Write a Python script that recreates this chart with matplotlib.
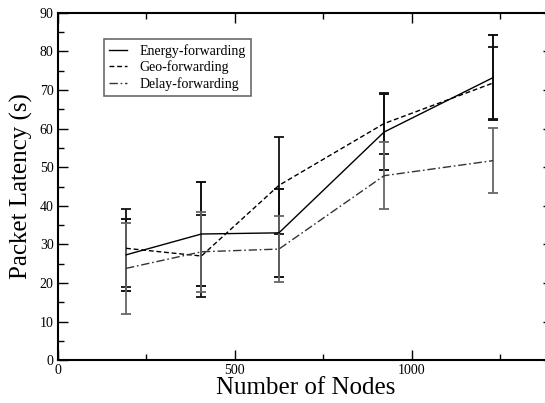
import matplotlib
matplotlib.use("Agg")
import matplotlib.pyplot as plt
from matplotlib.ticker import MultipleLocator

nodes = [193, 406, 625, 922, 1230]
energy = [27.3, 32.7, 33.0, 59.1, 73.2]
energy_err = [9.3, 13.4, 11.4, 9.9, 11.1]
geo = [29.0, 27.0, 45.3, 61.3, 71.8]
geo_err = [10.1, 10.5, 12.5, 8.0, 9.3]
delay = [23.8, 28.1, 28.8, 47.8, 51.7]
delay_err = [11.8, 10.4, 8.6, 8.7, 8.4]

plt.rcParams['font.family'] = ['Liberation Serif', 'DejaVu Serif']

W, H = 545, 403
fig = plt.figure(figsize=(W/100, H/100), dpi=100)
left, right, top, bottom = 57.7, 553.3, 12.7, 360.3
ax = fig.add_axes([left/W, 1-bottom/H, (right-left)/W, (bottom-top)/H])

ekw = dict(capsize=3.6, elinewidth=1.3, capthick=1.3)
l1 = ax.errorbar(nodes, energy, yerr=energy_err, color='black', lw=1.0,
                 ls='-', ecolor='black', **ekw)
l2 = ax.errorbar(nodes, geo, yerr=geo_err, color='black', lw=1.0,
                 ls=(0, (3.5, 2)), ecolor='#111111', **ekw)
l3 = ax.errorbar(nodes, delay, yerr=delay_err, color='#333333', lw=1.0,
                 ls=(0, (6, 2, 1.2, 2)), ecolor='#666666', **ekw)

ax.set_xlim(0, 1400)
ax.set_ylim(0, 90)
ax.xaxis.set_major_locator(MultipleLocator(500))
ax.xaxis.set_minor_locator(MultipleLocator(250))
ax.yaxis.set_major_locator(MultipleLocator(10))
ax.yaxis.set_minor_locator(MultipleLocator(5))
ax.tick_params(which='both', direction='in', top=True, right=True,
               labelsize=10, pad=3)
ax.tick_params(which='major', length=7, width=1)
ax.tick_params(which='minor', length=4, width=1)
for s in ax.spines.values():
    s.set_linewidth(1.5)

ax.set_xlabel('Number of Nodes', fontsize=18, labelpad=0)
ax.set_ylabel('Packet Latency (s)', fontsize=18, labelpad=5)

leg = ax.legend([l1[0], l2[0], l3[0]],
                ['Energy-forwarding', 'Geo-forwarding', 'Delay-forwarding'],
                loc='upper left', bbox_to_anchor=(0.094, 0.924),
                borderaxespad=0, fontsize=10, frameon=True, fancybox=False,
                handlelength=1.3, handletextpad=0.9, labelspacing=0.2,
                borderpad=0.35)
leg.get_frame().set_edgecolor('#444444')
leg.get_frame().set_linewidth(1.2)

fig.savefig('out.png', dpi=100)
